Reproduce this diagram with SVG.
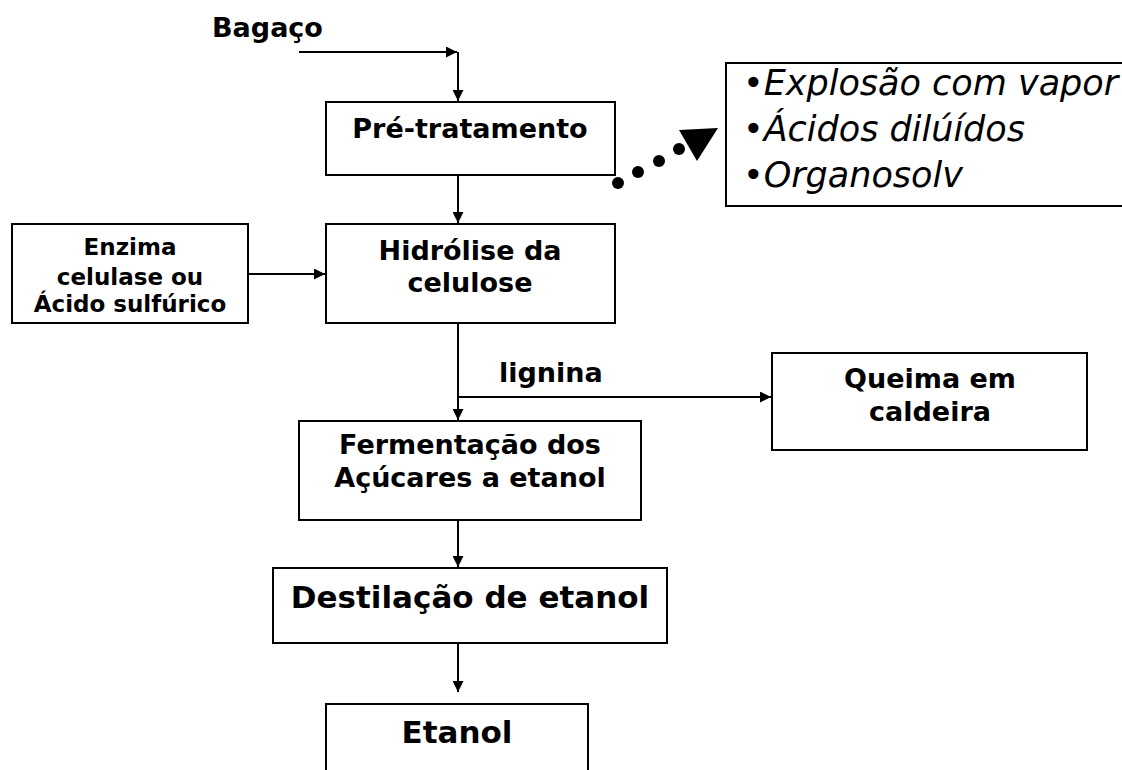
<svg xmlns="http://www.w3.org/2000/svg" width="1122" height="770" viewBox="0 0 1122 770">
<defs>
<marker id="ah" viewBox="0 0 10 10" refX="10" refY="5" markerWidth="5.5" markerHeight="5.5" orient="auto" markerUnits="strokeWidth">
<path d="M0,0 L10,5 L0,10 z" fill="#000"/>
</marker>
<style>
.box{fill:#fff;stroke:#000;stroke-width:2}
.t{font-family:"DejaVu Sans","Verdana",sans-serif;font-weight:bold;fill:#000;text-anchor:middle}
.l{fill:none;stroke:#000;stroke-width:2}
.it{font-family:"DejaVu Sans","Verdana",sans-serif;font-style:italic;font-size:35px;fill:#000}
</style>
</defs>
<rect width="1122" height="770" fill="#fff"/>
<g id="connectors">
<path class="l" d="M299,52 H457" marker-end="url(#ah)"/>
<path class="l" d="M458,52 V101" marker-end="url(#ah)"/>
<path class="l" d="M458,175 V223" marker-end="url(#ah)"/>
<path class="l" d="M248,274 H325" marker-end="url(#ah)"/>
<path class="l" d="M458,323 V420" marker-end="url(#ah)"/>
<path class="l" d="M458,397 H771" marker-end="url(#ah)"/>
<path class="l" d="M458,520 V567" marker-end="url(#ah)"/>
<path class="l" d="M458,643 V692" marker-end="url(#ah)"/>
<g id="dotted-arrow" fill="#000">
<circle cx="618" cy="183" r="6"/>
<circle cx="638" cy="172" r="6"/>
<circle cx="659" cy="161" r="6"/>
<circle cx="679" cy="149" r="6"/>
<polygon points="679,130 718,128 697,161"/>
</g>
</g>
<g id="bagaco"><text class="t" x="212" y="37" font-size="27" style="text-anchor:start">Bagaço</text></g>
<g id="pretratamento">
<rect class="box" x="326" y="102" width="289" height="73"/>
<text class="t" x="470" y="138" font-size="27">Pré-tratamento</text>
</g>
<g id="metodos">
<rect class="box" x="726" y="63" width="420" height="143"/>
<text class="it" x="743" y="95">•Explosão com vapor</text>
<text class="it" x="743" y="141">•Ácidos dilúídos</text>
<text class="it" x="743" y="187">•Organosolv</text>
</g>
<g id="enzima">
<rect class="box" x="12" y="224" width="236" height="99"/>
<text class="t" x="130" y="255" font-size="23">Enzima</text>
<text class="t" x="130" y="285" font-size="23">celulase ou</text>
<text class="t" x="130" y="312" font-size="23">Ácido sulfúrico</text>
</g>
<g id="hidrolise">
<rect class="box" x="326" y="224" width="289" height="99"/>
<text class="t" x="470" y="260" font-size="27">Hidrólise da</text>
<text class="t" x="470" y="292" font-size="27">celulose</text>
</g>
<g id="lignina"><text class="t" x="499" y="382" font-size="27" style="text-anchor:start">lignina</text></g>
<g id="queima">
<rect class="box" x="772" y="353" width="315" height="97"/>
<text class="t" x="930" y="388" font-size="27">Queima em</text>
<text class="t" x="930" y="421" font-size="27">caldeira</text>
</g>
<g id="fermentacao">
<rect class="box" x="299" y="421" width="342" height="99"/>
<text class="t" x="470" y="454" font-size="27">Fermentação dos</text>
<text class="t" x="470" y="487" font-size="27">Açúcares a etanol</text>
</g>
<g id="destilacao">
<rect class="box" x="273" y="568" width="394" height="75"/>
<text class="t" x="470" y="608" font-size="31">Destilação de etanol</text>
</g>
<g id="etanol">
<rect class="box" x="326" y="704" width="262" height="80"/>
<text class="t" x="457" y="743" font-size="31">Etanol</text>
</g>
</svg>
